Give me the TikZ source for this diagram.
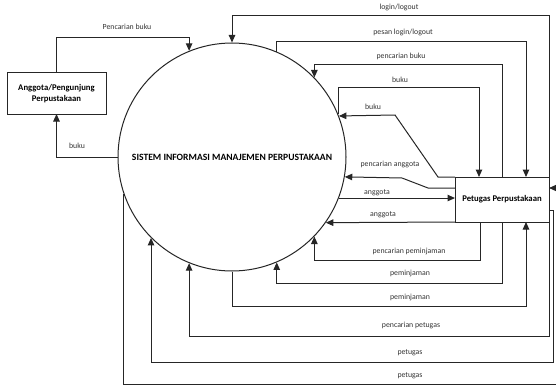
\documentclass[tikz,border=0pt]{standalone}
\usepackage{fontspec}
\setmainfont{Carlito}
\usetikzlibrary{arrows.meta}
\tikzset{
  flow/.style={draw=black!85, line width=1pt, -{Triangle[length=7.5pt,width=6.5pt]}},
  entity/.style={draw=black!85, line width=1pt, fill=white, inner sep=0pt, outer sep=0pt, align=center, font=\bfseries\fontsize{8.7}{11}\selectfont},
  flowlabel/.style={inner sep=0pt, text=black!80, font=\fontsize{7.8}{9}\selectfont},
}

\begin{document}
\begin{tikzpicture}[x=1pt, y=-1pt]
    \useasboundingbox (0,0) rectangle (556,385);

    % Process and external entities
    \node[circle, draw=black!85, line width=1pt, minimum size=228pt, inner sep=0pt, font=\bfseries\fontsize{9.6}{11}\selectfont] (sys) at (232,157) {SISTEM INFORMASI MANAJEMEN PERPUSTAKAAN};
    \node[entity, minimum width=99pt, minimum height=41pt] (anggota) at (56.5,93.5) {Anggota/Pengunjung\\Perpustakaan};
    \node[entity, minimum width=94pt, minimum height=45pt] (petugas) at (502,199.5) {Petugas Perpustakaan};

    % Flows with anggota
    \draw[flow] (anggota.north) -- ++(0,-35) -| (sys.112.7);
    \draw[flow] (sys.west) -| (anggota.south);

    % Flows above the process
    \draw[flow] (petugas.north east) -- ++(0,-161) -| (sys.north);
    \draw[flow] (sys.67.8) -- ++(0,-10) -| ([xshift=24pt]petugas.north);
    \draw[flow] (petugas.north) -- ++(0,-112) -| (sys.44.7);
    \draw[flow] (sys.22.9) -- ++(0,-27) -| ([xshift=-23pt]petugas.north);
    \draw[flow] (petugas.north west) -- ++(-17,0) -- ++(-43,-62) -- (sys.21.6);

    % Flows beside the process
    \draw[flow] ([yshift=11.5pt]petugas.west) -- ++(-27,0) -- ++(-26,-10) -- (sys.-10.1);
    \draw[flow] (sys.-21.6) -- (sys.-21.6 -| petugas.west);
    \draw[flow] (petugas.south west) -- (sys.-35.4);

    % Flows below the process
    \draw[flow] ([xshift=-22pt]petugas.south) -- ++(0,38) -| (sys.-44.7);
    \draw[flow] (petugas.south) -- ++(0,61) -| (sys.-67.3);
    \draw[flow] (sys.south) -- ++(0,35) -| ([xshift=24pt]petugas.south);
    \draw[flow] (petugas.south east) -- ++(0,114) -| (sys.-112.7);
    \draw[flow] ([yshift=-10.5pt]petugas.east) -- ++(4,0) -- ++(0,152) -| (sys.-135.3);
    \draw[flow] (sys.-161.3) |- (556,384) |- ([yshift=11.5pt]petugas.east);

    % Flow labels
    \node[flowlabel] (lCariBukuA) at (127,27) {Pencarian buku};
    \node[flowlabel] (lBukuA) at (77,146) {buku};
    \node[flowlabel] (lLogin) at (399,7) {login/logout};
    \node[flowlabel] (lPesan) at (403,32) {pesan login/logout};
    \node[flowlabel] (lCariBuku) at (401,56) {pencarian buku};
    \node[flowlabel] (lBuku1) at (400,80) {buku};
    \node[flowlabel] (lBuku2) at (373,107) {buku};
    \node[flowlabel] (lCariAnggota) at (390,164) {pencarian anggota};
    \node[flowlabel] (lAnggota1) at (377,193) {anggota};
    \node[flowlabel] (lAnggota2) at (383,215) {anggota};
    \node[flowlabel] (lCariPinjam) at (409,251) {pencarian peminjaman};
    \node[flowlabel] (lPinjam1) at (410,273) {peminjaman};
    \node[flowlabel] (lPinjam2) at (410,297) {peminjaman};
    \node[flowlabel] (lCariPetugas) at (411,325) {pencarian petugas};
    \node[flowlabel] (lPetugas1) at (410,353) {petugas};
    \node[flowlabel] (lPetugas2) at (410,376) {petugas};
\end{tikzpicture}
\end{document}
